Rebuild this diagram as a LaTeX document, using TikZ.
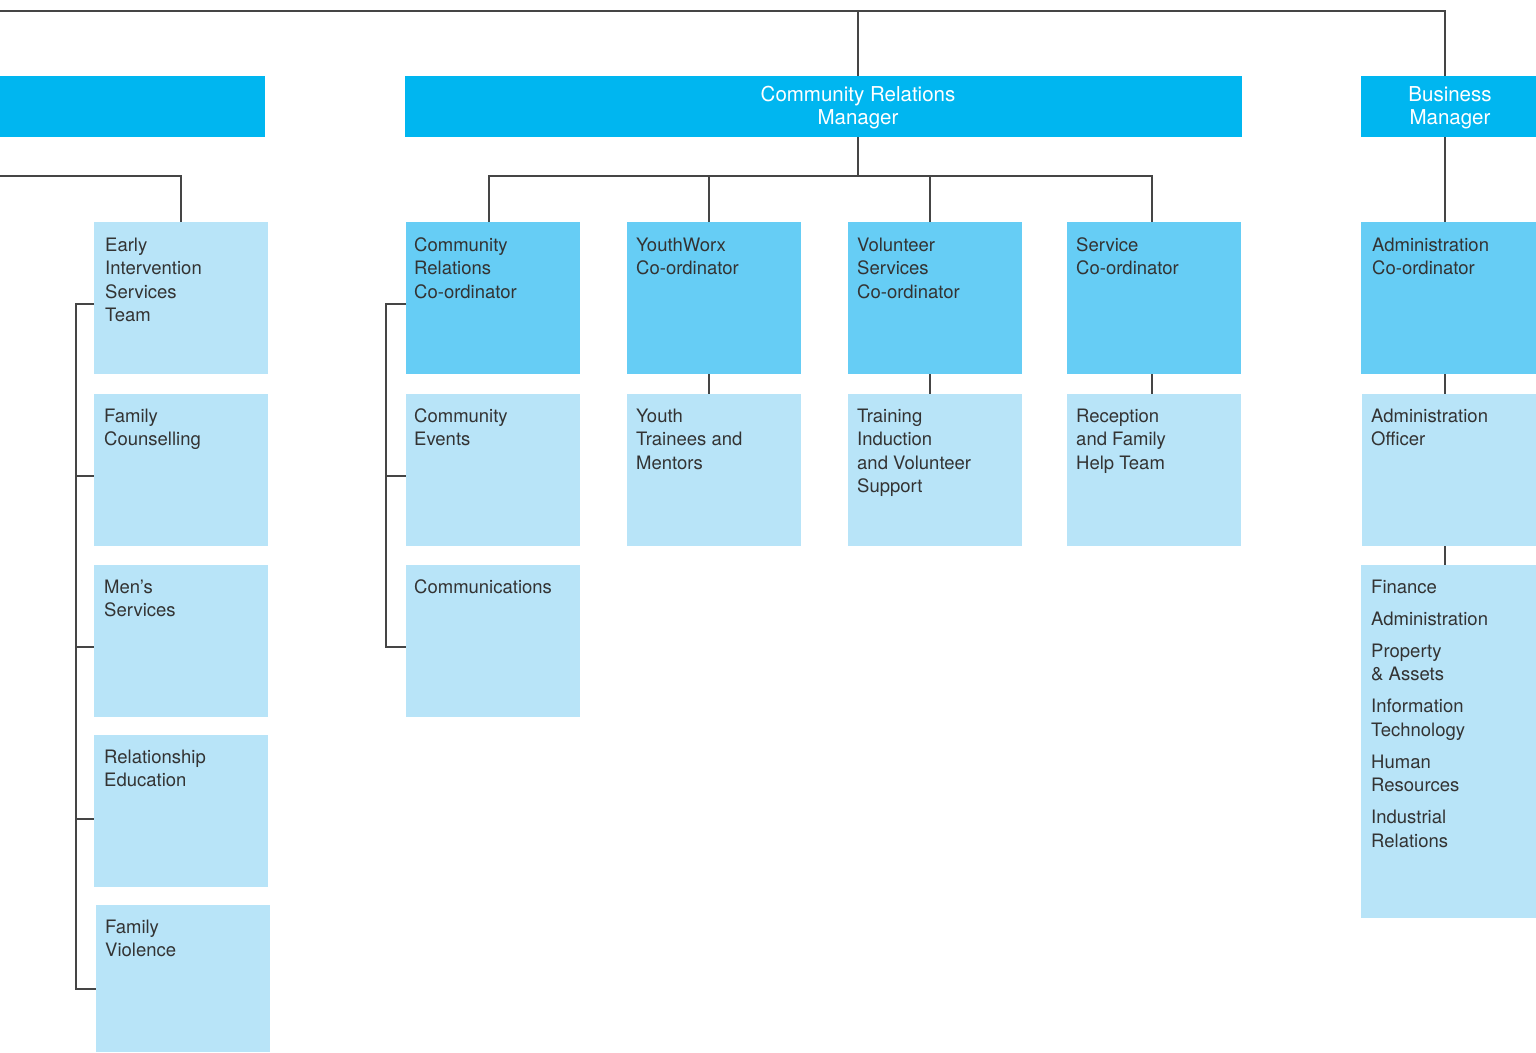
\documentclass[tikz,border=0pt]{standalone}
\usepackage{fontspec}
\setmainfont{TeX Gyre Heros}
\definecolor{hdr}{HTML}{00B6F0}
\definecolor{mid}{HTML}{66CDF5}
\definecolor{lite}{HTML}{B8E4F8}
\definecolor{ln}{HTML}{454545}
\definecolor{tx}{HTML}{333333}
\newcommand{\blk}[1]{\begin{tabular}[t]{@{}l@{}}#1\end{tabular}}
\newcommand{\hblk}[1]{\begin{tabular}[t]{@{}c@{}}#1\end{tabular}}
\begin{document}
\begin{tikzpicture}[x=1pt,y=-1pt,
  box/.style={anchor=north west, inner sep=0pt, outer sep=0pt, minimum width=174pt, minimum height=152pt},
  hdrbox/.style={box, fill=hdr, minimum height=61pt},
  midbox/.style={box, fill=mid},
  litebox/.style={box, fill=lite},
  txt/.style={anchor=base west, inner sep=0pt, text=tx, font=\fontsize{18.5}{23.5}\selectfont},
  htxt/.style={anchor=base, inner sep=0pt, text=white, font=\fontsize{20.5}{23.5}\selectfont},
  conn/.style={draw=ln, line width=1.3pt}
]
\useasboundingbox (0,0) rectangle (1536,1052);

% header boxes
\node[hdrbox, minimum width=265pt] (h1) at (0,76) {};
\node[hdrbox, minimum width=837pt] (h2) at (405,76) {};
\node[hdrbox, minimum width=175pt] (h3) at (1361,76) {};
\node[htxt] (h2t) at (858,101) {\hblk{Community Relations\\Manager}};
\node[htxt] (h3t) at (1450,101) {\hblk{Business\\Manager}};

% left column
\node[litebox] (e1) at (94,222) {};
\node[litebox] (e2) at (94,394) {};
\node[litebox] (e3) at (94,565) {};
\node[litebox] (e4) at (94,735) {};
\node[litebox, minimum height=147pt] (e5) at (96,905) {};
\node[txt] (e1t) at (105,251) {\blk{Early\\Intervention\\Services\\Team}};
\node[txt] (e2t) at (104,422) {\blk{Family\\Counselling}};
\node[txt] (e3t) at (104,593) {\blk{Men’s\\Services}};
\node[txt] (e4t) at (104,763) {\blk{Relationship\\Education}};
\node[txt] (e5t) at (105,933) {\blk{Family\\Violence}};

% centre columns
\node[midbox] (c1) at (406,222) {};
\node[midbox] (c2) at (627,222) {};
\node[midbox] (c3) at (848,222) {};
\node[midbox] (c4) at (1067,222) {};
\node[litebox] (d1) at (406,394) {};
\node[litebox] (d2) at (627,394) {};
\node[litebox] (d3) at (848,394) {};
\node[litebox] (d4) at (1067,394) {};
\node[litebox] (d5) at (406,565) {};
\node[txt] (c1t) at (414,251) {\blk{Community\\Relations\\Co-ordinator}};
\node[txt] (c2t) at (636,251) {\blk{YouthWorx\\Co-ordinator}};
\node[txt] (c3t) at (857,251) {\blk{Volunteer\\Services\\Co-ordinator}};
\node[txt] (c4t) at (1076,251) {\blk{Service\\Co-ordinator}};
\node[txt] (d1t) at (414,422) {\blk{Community\\Events}};
\node[txt] (d2t) at (636,422) {\blk{Youth\\Trainees and\\Mentors}};
\node[txt] (d3t) at (857,422) {\blk{Training\\Induction\\and Volunteer\\Support}};
\node[txt] (d4t) at (1076,422) {\blk{Reception\\and Family\\Help Team}};
\node[txt] (d5t) at (414,593) {\blk{Communications}};

% right column
\node[midbox, minimum width=175pt] (r1) at (1361,222) {};
\node[litebox] (r2) at (1362,394) {};
\node[litebox, minimum width=175pt, minimum height=353pt] (r3) at (1361,565) {};
\node[txt] (r1t) at (1372,251) {\blk{Administration\\Co-ordinator}};
\node[txt] (r2t) at (1371,422) {\blk{Administration\\Officer}};
\node[txt] (r3t) at (1371,593) {\blk{Finance\\[8.5pt]Administration\\[8.5pt]Property\\\& Assets\\[8.5pt]Information\\Technology\\[8.5pt]Human\\Resources\\[8.5pt]Industrial\\Relations}};

% connector coordinates
\coordinate (tl) at (0,11);
\coordinate (cx) at (858,11);
\coordinate (rx) at (1445,11);
\coordinate (bus) at (0,176);
\coordinate (lb) at (0,176);
\coordinate (lx) at (76,0);
\coordinate (mx) at (386,0);
\coordinate (k1) at ([xshift=-4pt]c1.north);
\coordinate (k2) at ([xshift=-5pt]c2.north);
\coordinate (k3) at ([xshift=-5pt]c3.north);
\coordinate (k4) at ([xshift=-2pt]c4.north);
\coordinate (lv1) at ([yshift=-6pt]e1.west);
\coordinate (lv2) at ([yshift=-6pt]e2.west);
\coordinate (lv3) at ([yshift=-6pt]e3.west);
\coordinate (lv4) at ([yshift=-8pt]e4.west);
\coordinate (lv5) at ([yshift=-10.5pt]e5.west);
\coordinate (mv1) at ([yshift=-6pt]c1.west);
\coordinate (mv2) at ([yshift=-6pt]d1.west);
\coordinate (mv3) at ([yshift=-6pt]d5.west);

% top line
\draw[conn] (tl) -- (rx) -- (rx |- h3.north);
\draw[conn] (cx) -- (cx |- h2.north);

% centre tree
\draw[conn] (cx |- h2.south) -- (cx |- bus);
\draw[conn] (k1) -- (k1 |- bus) -- (k4 |- bus) -- (k4);
\draw[conn] (k2) -- (k2 |- bus);
\draw[conn] (k3) -- (k3 |- bus);
\draw[conn] (k2 |- c2.south) -- (k2 |- d2.north);
\draw[conn] (k3 |- c3.south) -- (k3 |- d3.north);
\draw[conn] (k4 |- c4.south) -- (k4 |- d4.north);
\draw[conn] (mv1) -- (mv1 -| mx) -- (mv3 -| mx) -- (mv3);
\draw[conn] (mv2 -| mx) -- (mv2);

% left tree
\draw[conn] (lb) -| (e1.north);
\draw[conn] (lv1) -- (lv1 -| lx) -- (lv5 -| lx) -- (lv5);
\draw[conn] (lv2 -| lx) -- (lv2);
\draw[conn] (lv3 -| lx) -- (lv3);
\draw[conn] (lv4 -| lx) -- (lv4);

% right tree
\draw[conn] (rx |- h3.south) -- (rx |- r1.north);
\draw[conn] (rx |- r1.south) -- (rx |- r2.north);
\draw[conn] (rx |- r2.south) -- (rx |- r3.north);
\end{tikzpicture}
\end{document}
